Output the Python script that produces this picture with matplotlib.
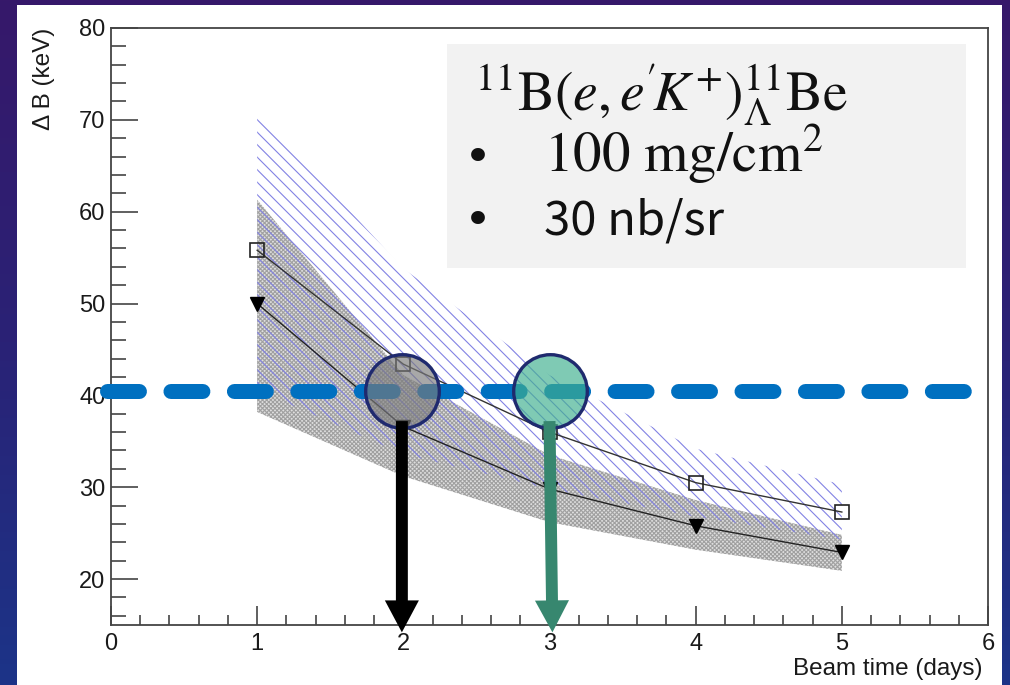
import numpy as np
import matplotlib
matplotlib.use('Agg')
import matplotlib.pyplot as plt
from matplotlib.patches import Rectangle
from matplotlib.ticker import MultipleLocator
from matplotlib.colors import LinearSegmentedColormap
from matplotlib.backend_bases import GraphicsContextBase

plt.rcParams['font.family'] = ['Liberation Sans', 'DejaVu Sans']
plt.rcParams['mathtext.fontset'] = 'stix'
plt.rcParams['hatch.linewidth'] = 0.8

# ROOT hatch spacing is tighter than matplotlib's default
_orig_hatch = GraphicsContextBase.get_hatch_path
def _hatch_path(self, density=6.0):
    return _orig_hatch(self, 16.0)
GraphicsContextBase.get_hatch_path = _hatch_path

## data
days = [1, 2, 3, 4, 5]
# open squares + blue hatched band
db_sq = [55.8, 43.4, 36.0, 30.5, 27.3]
db_sq_hi = [71.0, 53.8, 42.2, 34.2, 30.3]
db_sq_lo = [40.6, 33.6, 29.8, 26.8, 24.3]
# filled triangles + grey dotted band
db_tri = [50.0, 36.6, 29.8, 25.8, 22.9]
db_tri_hi = [61.3, 42.2, 33.5, 28.6, 24.8]
db_tri_lo = [38.2, 31.2, 26.2, 23.2, 20.9]

# slide overlays
target_db = 40.5
target_span = [-0.025, 5.895]
circle_days = [1.99, 3.0]
arrow_days = [(1.99, 1.99), (3.0, 3.02)]
arrow_y = (37.2, 14.2)
x_ticks = [0, 1, 2, 3, 4, 5, 6]
y_ticks = [20, 30, 40, 50, 60, 70, 80]

fig = plt.figure(figsize=(10.1, 6.85), dpi=100)

## slide background (purple -> blue)
bg = fig.add_axes([0, 0, 1, 1])
bg.set_axis_off()
grad = np.linspace(0, 1, 256)[:, None] * np.ones((1, 16))
cmap = LinearSegmentedColormap.from_list('slide', ['#36186a', '#2a2276', '#1c3488'])
bg.imshow(grad, aspect='auto', cmap=cmap, extent=[0, 1, 0, 1])
bg.add_patch(Rectangle((17 / 1010, 0), 985 / 1010, 680 / 685, facecolor='white', edgecolor='none'))
bg.set_xlim(0, 1)
bg.set_ylim(0, 1)

ax = fig.add_axes([111 / 1010, 60 / 685, 877 / 1010, 597 / 685])
ax.set_facecolor('none')

## bands
ax.fill_between(days, db_tri_lo, db_tri_hi, facecolor='#dedede', edgecolor='#a0a0a0',
                hatch='xxx', linewidth=0, zorder=1)
ax.fill_between(days, db_sq_lo, db_sq_hi, facecolor='none', edgecolor='#8282e4',
                hatch='\\', linewidth=0, zorder=1.5)

## curves
ax.plot(days, db_sq, color='#333333', lw=1.0, marker='s', ms=10, mfc='none',
        mec='#222222', mew=1.2, zorder=2)
ax.plot(days, db_tri, color='#222222', lw=1.0, marker='v', ms=10, mfc='black',
        mec='black', zorder=2)

## axis style (ROOT-like)
ax.set_xlim(0, 6)
ax.set_ylim(15, 80)
ax.set_xticks(x_ticks)
ax.set_yticks(y_ticks)
ax.xaxis.set_minor_locator(MultipleLocator(0.2))
ax.yaxis.set_minor_locator(MultipleLocator(2))
for s in ax.spines.values():
    s.set_color('#444444')
    s.set_linewidth(1.3)
ax.tick_params(axis='x', which='major', direction='in', length=14, width=1.2,
               color='#444444', labelsize=17, pad=6)
ax.tick_params(axis='x', which='minor', direction='in', length=7, width=1.2, color='#444444')
ax.tick_params(axis='y', which='major', direction='in', length=19.5, width=1.2,
               color='#444444', labelsize=17, pad=4)
ax.tick_params(axis='y', which='minor', direction='in', length=11, width=1.2, color='#444444')
ax.set_xlabel('Beam time (days)', fontsize=17.5, loc='right', color='#1a1a1a')
ax.xaxis.set_label_coords(0.994, -0.055)
ax.set_ylabel('Δ B (keV)', fontsize=17.5, loc='top', color='#1a1a1a')
ax.yaxis.set_label_coords(-0.064, 1.0)
for lab in ax.get_xticklabels() + ax.get_yticklabels():
    lab.set_color('#1a1a1a')

## dashed target line
ax.plot(target_span, [target_db, target_db], color='#0070c0', lw=10.8,
        dashes=(2.13, 2.1), dash_capstyle='round', clip_on=False, zorder=3)

## circles
ax.plot(circle_days[0], target_db, 'o', ms=53, mfc=(0.48, 0.48, 0.48, 0.65),
        mec='#1f2a6e', mew=2.4, clip_on=False, zorder=4)
ax.plot(circle_days[1], target_db, 'o', ms=53, mfc=(0.25, 0.69, 0.56, 0.67),
        mec='#1f2a6e', mew=2.4, clip_on=False, zorder=4)

## arrows
for (x0, x1), col in zip(arrow_days, ['black', '#37876f']):
    ax.annotate('', xy=(x1, arrow_y[1]), xytext=(x0, arrow_y[0]),
                arrowprops=dict(arrowstyle='simple,head_length=2.3,head_width=2.45,tail_width=0.86',
                                color=col, lw=0, shrinkA=0, shrinkB=0, mutation_scale=10),
                annotation_clip=False, zorder=5)

## text box
ax.add_patch(Rectangle((0.383, 0.598), 0.592, 0.375, transform=ax.transAxes,
                       facecolor='#f2f2f2', edgecolor='none', zorder=6))
ax.text(0.415, 0.8626, r"${}^{11}\mathrm{B}(e,e^{\hspace{-0.08}\prime}\!K^{+})^{11}_{\Lambda}\mathrm{Be}$",
        transform=ax.transAxes, fontsize=40, va='baseline', ha='left', color='#111111', zorder=7)
ax.text(0.4185, 0.7588, '•', transform=ax.transAxes, fontsize=34, va='baseline', ha='center',
        family=['DejaVu Sans'], color='#111111', zorder=7)
ax.text(0.4937, 0.7588, r'$100\ \mathrm{mg/cm^{2}}$', transform=ax.transAxes, fontsize=41,
        va='baseline', ha='left', color='#111111', zorder=7)
ax.text(0.4185, 0.6533, '•', transform=ax.transAxes, fontsize=34, va='baseline', ha='center',
        family=['DejaVu Sans'], color='#111111', zorder=7)
ax.text(0.4937, 0.6533, '30 nb/sr', transform=ax.transAxes, fontsize=34, va='baseline', ha='left',
        family=['Noto Sans CJK JP', 'DejaVu Sans'], color='#111111', zorder=7)

plt.savefig('out.png', dpi=100)
